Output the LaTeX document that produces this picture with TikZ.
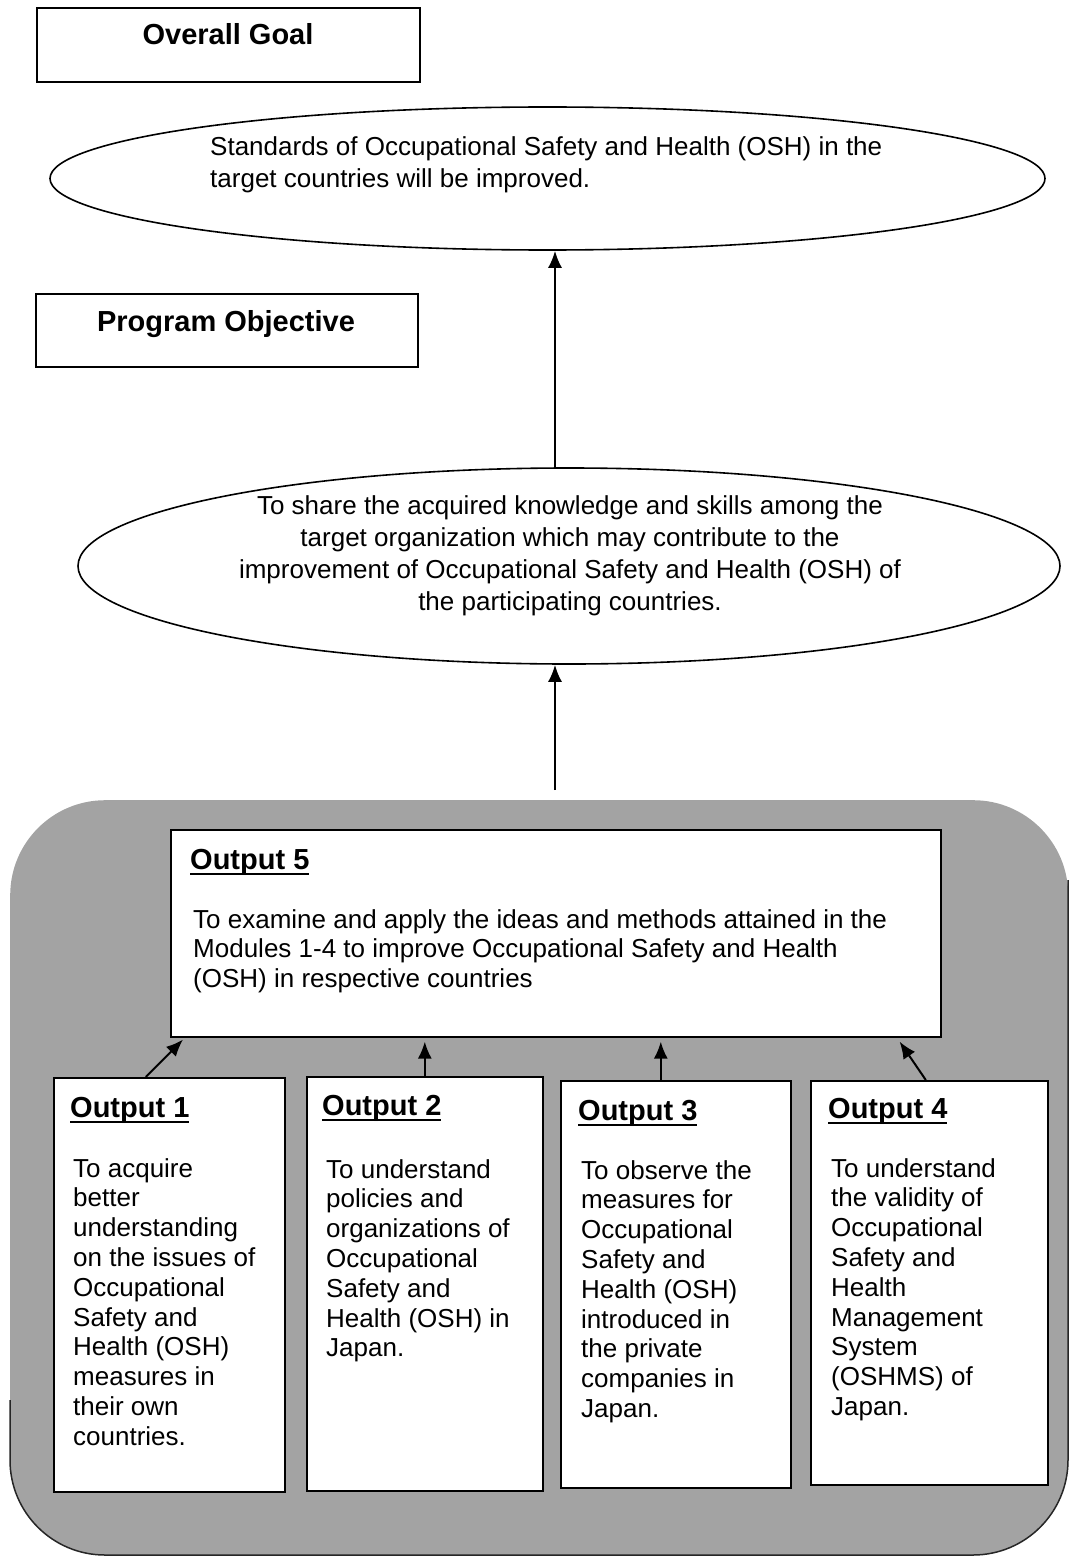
\documentclass[tikz,border=0pt]{standalone}
\usepackage{fontspec}
\setmainfont{Liberation Sans}
\usetikzlibrary{shapes.geometric,arrows.meta}
\definecolor{panelgray}{gray}{0.64}
\newcommand{\myul}[1]{\setbox0\hbox{#1}\rlap{\rule[-6pt]{\wd0}{1.8pt}}\box0}
\begin{document}
\begin{tikzpicture}[x=1pt,y=-1pt,
  box/.style={draw, line width=1.6pt, fill=white, inner sep=0pt, anchor=north west},
  ell/.style={draw, ellipse, line width=1.6pt, inner sep=0pt},
  arr/.style={-{Latex[length=17pt,width=14pt]}, line width=2pt},
  hdg/.style={font=\fontsize{29}{34}\selectfont\bfseries, inner sep=0pt, anchor=base},
  ttl/.style={font=\fontsize{29}{34}\selectfont\bfseries, inner sep=0pt, anchor=base west},
  body/.style={font=\fontsize{26}{29.8}\selectfont, inner sep=0pt, anchor=north west, yshift=20.86pt, align=left, execute at begin node=\strut},
  ebody/.style={font=\fontsize{26}{31.8}\selectfont, inner sep=0pt, yshift=22.26pt, execute at begin node=\strut}]
\useasboundingbox (0,0) rectangle (1070,1557);

% grey panel
\node[fill=panelgray, rounded corners=95pt, minimum width=1058pt, minimum height=755pt, inner sep=0pt, anchor=north west] (panel) at (10,800) {};
\draw[line width=1.5pt, black!85] (10,1400) -- (10,1460) arc[start angle=180, end angle=90, radius=95] -- (973,1555) arc[start angle=90, end angle=0, radius=95] -- (1068,880);

% boxes and ellipses
\node[box, minimum width=383pt, minimum height=74pt] (goalbox) at (36,7) {};
\node[box, minimum width=382pt, minimum height=73pt] (objbox) at (35,293) {};
\node[ell, minimum width=995pt, minimum height=143pt] (goal) at (547.5,178.5) {};
\node[ell, minimum width=982pt, minimum height=196pt] (purpose) at (569,566) {};
\node[box, minimum width=770pt, minimum height=207pt] (out5) at (170,829) {};
\node[box, minimum width=231pt, minimum height=414pt] (out1) at (53,1077) {};
\node[box, minimum width=236pt, minimum height=414pt] (out2) at (306,1076) {};
\node[box, minimum width=230pt, minimum height=407pt] (out3) at (560,1080) {};
\node[box, minimum width=237pt, minimum height=404pt] (out4) at (810,1080) {};

% arrows
\coordinate (axis) at (555,0);
\coordinate (feed) at (555,790);
\draw[arr] (purpose.north -| axis) -- (goal.south -| axis);
\draw[arr] (feed) -- (purpose.south -| axis);
\draw[arr] ([xshift=-23.5pt]out1.north) -- ([xshift=13pt,yshift=-2pt]out5.south west);
\draw[arr, shorten >=4pt] (out2.north) -- (out2.north |- out5.south);
\draw[arr, shorten >=4pt] ([xshift=-15pt]out3.north) -- ([xshift=-15pt]out3.north |- out5.south);
\draw[arr] ([xshift=-3.5pt]out4.north) -- ([xshift=-42pt,yshift=-4pt]out5.south east);

% texts
\node[hdg] (goalttl) at (228,45) {Overall Goal};
\node[hdg] (objttl) at (226,331) {Program Objective};
\node[ebody, anchor=north west, align=left] (goaltxt) at (210,159)
  {Standards of Occupational Safety and Health (OSH) in the\\target countries will be improved.};
\node[ebody, anchor=north, align=center] (purptxt) at (570,518)
  {To share the acquired knowledge and skills among the\\target organization which may contribute to the\\improvement of Occupational Safety and Health (OSH) of\\the participating countries.};

\node[ttl] (o5ttl) at (190,869) {\myul{Output 5}};
\node[body] (o5txt) at (193,930)
  {To examine and apply the ideas and methods attained in the\\Modules 1-4 to improve Occupational Safety and Health\\(OSH) in respective countries};

\node[ttl] (o1ttl) at (70,1117) {\myul{Output 1}};
\node[body] (o1txt) at (73,1179)
  {To acquire\\better\\understanding\\on the issues of\\Occupational\\Safety and\\Health (OSH)\\measures in\\their own\\countries.};

\node[ttl] (o2ttl) at (322,1115) {\myul{Output 2}};
\node[body] (o2txt) at (326,1180)
  {To understand\\policies and\\organizations of\\Occupational\\Safety and\\Health (OSH) in\\Japan.};

\node[ttl] (o3ttl) at (578,1120) {\myul{Output 3}};
\node[body] (o3txt) at (581,1181)
  {To observe the\\measures for\\Occupational\\Safety and\\Health (OSH)\\introduced in\\the private\\companies in\\Japan.};

\node[ttl] (o4ttl) at (828,1118) {\myul{Output 4}};
\node[body] (o4txt) at (831,1179)
  {To understand\\the validity of\\Occupational\\Safety and\\Health\\Management\\System\\(OSHMS) of\\Japan.};
\end{tikzpicture}
\end{document}
